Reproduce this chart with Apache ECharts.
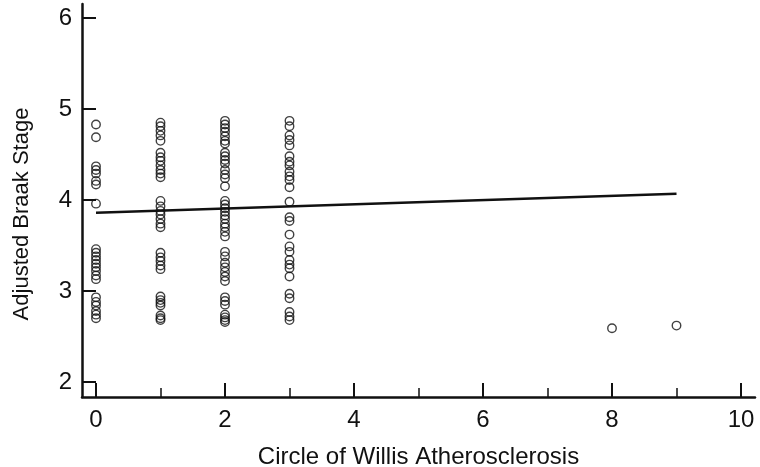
<!DOCTYPE html>
<html>
<head>
<meta charset="utf-8">
<script src="https://cdn.jsdelivr.net/npm/echarts@6/dist/echarts.min.js"></script>
<style>html,body{margin:0;padding:0;background:#fff;}#c{width:760px;height:467px;}</style>
</head>
<body>
<div id="c"></div>
<script>
// Scatter values per x level (Circle of Willis Atherosclerosis score)
var xLevels = [0, 1, 2, 3];
var braak0 = [4.83, 4.69, 4.37, 4.33, 4.29, 4.21, 4.17, 3.96, 3.46, 3.42, 3.38, 3.34, 3.30, 3.26, 3.22, 3.17, 3.13, 2.93, 2.88, 2.84, 2.78, 2.74, 2.70];
var braak1 = [4.85, 4.81, 4.76, 4.71, 4.65, 4.52, 4.47, 4.43, 4.38, 4.33, 4.29, 4.25, 3.99, 3.93, 3.88, 3.84, 3.79, 3.74, 3.70, 3.42, 3.37, 3.33, 3.28, 3.24, 2.94, 2.90, 2.87, 2.84, 2.73, 2.70, 2.68];
var braak2 = [4.87, 4.83, 4.79, 4.75, 4.70, 4.65, 4.62, 4.52, 4.48, 4.44, 4.40, 4.33, 4.28, 4.24, 4.15, 3.99, 3.95, 3.91, 3.87, 3.83, 3.79, 3.74, 3.70, 3.65, 3.60, 3.43, 3.38, 3.31, 3.26, 3.21, 3.16, 3.11, 2.93, 2.89, 2.85, 2.74, 2.71, 2.68, 2.66];
var braak3 = [4.87, 4.81, 4.71, 4.66, 4.60, 4.48, 4.42, 4.38, 4.31, 4.26, 4.22, 4.14, 3.98, 3.81, 3.77, 3.62, 3.49, 3.43, 3.34, 3.29, 3.25, 3.16, 2.97, 2.92, 2.77, 2.72, 2.68];
var outlierX = [8, 9];
var outlierY = [2.59, 2.62];
// Regression line end points
var fitX = [0, 9];
var fitY = [3.86, 4.07];
// Axis ticks
var xTicks = {min: 0, max: 10, interval: 2};
var yTicks = {min: 2, max: 6, interval: 1};

var cols = [braak0, braak1, braak2, braak3];
var pts = [];
cols.forEach(function (col, i) {
  col.forEach(function (v) { pts.push([xLevels[i], v]); });
});
outlierX.forEach(function (x, i) { pts.push([x, outlierY[i]]); });
var fitData = fitX.map(function (x, i) { return [x, fitY[i]]; });

var font = 'Liberation Sans, Arial, sans-serif';
var chart = echarts.init(document.getElementById('c'), null, {renderer: 'canvas'});
chart.setOption({
  animation: false,
  backgroundColor: '#fff',
  grid: [
    {left: 96, right: 19, top: 18, bottom: 85, containLabel: false, outerBoundsMode: 'none'},
    {left: 82, right: 5, top: 4, bottom: 70, containLabel: false, outerBoundsMode: 'none'}
  ],
  xAxis: [
    {
      gridIndex: 0, type: 'value', min: xTicks.min, max: xTicks.max, interval: xTicks.interval,
      offset: 15,
      name: 'Circle of Willis Atherosclerosis', nameLocation: 'middle', nameGap: 48,
      nameTextStyle: {fontSize: 24, color: '#111', fontFamily: font},
      axisLine: {show: false},
      axisTick: {show: true, inside: true, length: 14, lineStyle: {color: '#111', width: 2}},
      minorTick: {show: true, splitNumber: 2, length: 9, lineStyle: {color: '#111', width: 1.5}},
      axisLabel: {fontSize: 24, color: '#111', fontFamily: font, margin: 11},
      splitLine: {show: false}
    },
    {
      gridIndex: 1, type: 'value', min: 0, max: 1,
      axisLine: {show: true, lineStyle: {color: '#111', width: 2.5}},
      axisTick: {show: false}, axisLabel: {show: false}, splitLine: {show: false}
    }
  ],
  yAxis: [
    {
      gridIndex: 0, type: 'value', min: yTicks.min, max: yTicks.max, interval: yTicks.interval,
      name: 'Adjusted Braak Stage', nameLocation: 'middle', nameGap: 63,
      nameTextStyle: {fontSize: 22, color: '#111', fontFamily: font, padding: [0, 28, 0, 0]},
      axisLine: {show: false},
      axisTick: {show: true, inside: false, length: 14, lineStyle: {color: '#111', width: 2}},
      axisLabel: {fontSize: 24, color: '#111', fontFamily: font, margin: 24},
      splitLine: {show: false}
    },
    {
      gridIndex: 1, type: 'value', min: 0, max: 1,
      axisLine: {show: true, lineStyle: {color: '#111', width: 2.5}},
      axisTick: {show: false}, axisLabel: {show: false}, splitLine: {show: false}
    }
  ],
  series: [
    {
      type: 'scatter', xAxisIndex: 0, yAxisIndex: 0, data: pts,
      symbol: 'circle', symbolSize: 8.5,
      itemStyle: {color: 'rgba(0,0,0,0)', borderColor: '#111', borderWidth: 1.4},
      clip: false
    },
    {
      type: 'line', xAxisIndex: 0, yAxisIndex: 0, data: fitData,
      symbol: 'none', lineStyle: {color: '#111', width: 2.5}
    }
  ]
});
</script>
</body>
</html>
